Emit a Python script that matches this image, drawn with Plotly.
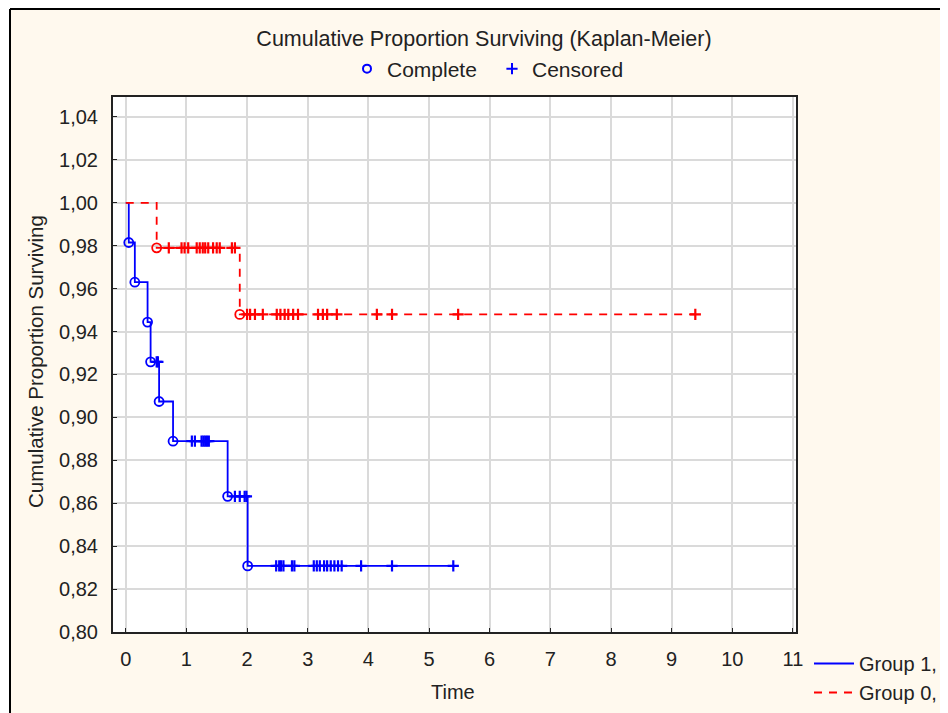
import plotly.graph_objects as go
import numpy as np

# ---------------- data ----------------
g1_event_times = [0.0, 0.05, 0.15, 0.36, 0.41, 0.55, 0.78, 1.68, 2.01]
g1_event_surv = [1.0, 0.9815, 0.9630, 0.9444, 0.9259, 0.9074, 0.8889, 0.8632, 0.8308]
g1_censor_times = [0.51, 0.53, 1.09, 1.14, 1.25, 1.28, 1.31, 1.34, 1.37, 1.80, 1.88, 1.96, 1.99,
                   2.48, 2.53, 2.56, 2.60, 2.74, 2.78, 3.10, 3.15, 3.20, 3.27, 3.32, 3.38, 3.44,
                   3.50, 3.56, 3.88, 4.39, 5.40]
g1_end = 5.40

g0_event_times = [0.0, 0.51, 1.88]
g0_event_surv = [1.0, 0.979, 0.948]
g0_censor_times = [0.71, 0.92, 0.97, 1.03, 1.17, 1.22, 1.27, 1.31, 1.36, 1.44, 1.50, 1.55, 1.75,
                   1.80, 2.00, 2.05, 2.13, 2.26, 2.49, 2.55, 2.62, 2.68, 2.76, 2.84, 3.17, 3.25,
                   3.32, 3.48, 4.14, 4.39, 5.48, 9.39]
g0_end = 9.40

x_ticks = list(range(0, 12))
y_ticks = [0.80, 0.82, 0.84, 0.86, 0.88, 0.90, 0.92, 0.94, 0.96, 0.98, 1.00, 1.02, 1.04]

BLUE = "#0000FF"
RED = "#FF0000"
CREAM = "#FFF9EE"
TXT = "#222222"

def step_at(t, times, surv):
    idx = np.searchsorted(times, t, side="right") - 1
    return surv[idx]

fig = go.Figure()

def add_group(times, surv, censors, end, color, dash, name):
    lx = list(times) + [end]
    ly = list(surv) + [surv[-1]]
    fig.add_trace(go.Scatter(x=lx, y=ly, mode="lines", line=dict(color=color, width=1.8, dash=dash, shape="hv"),
                             name=name, legend="legend", showlegend=True, hoverinfo="skip"))
    fig.add_trace(go.Scatter(x=times[1:], y=surv[1:], mode="markers",
                             marker=dict(symbol="circle-open", size=9, color=color, line=dict(width=1.8, color=color)),
                             showlegend=False, hoverinfo="skip"))
    cy_ = [step_at(t, times, surv) for t in censors]
    fig.add_trace(go.Scatter(x=censors, y=cy_, mode="markers",
                             marker=dict(symbol="cross-thin", size=8, color=color, line=dict(width=2.2, color=color)),
                             showlegend=False, hoverinfo="skip"))

add_group(g1_event_times, g1_event_surv, g1_censor_times, g1_end, BLUE, "solid", "Group 1,")
add_group(g0_event_times, g0_event_surv, g0_censor_times, g0_end, RED, "8px,7px", "Group 0,")

# top legend entries
fig.add_trace(go.Scatter(x=[None], y=[None], mode="markers", name="Complete", legend="legend2",
                         marker=dict(symbol="circle-open", size=8, color=BLUE, line=dict(width=2, color=BLUE))))
fig.add_trace(go.Scatter(x=[None], y=[None], mode="markers", name="Censored", legend="legend2",
                         marker=dict(symbol="cross-thin", size=8, color=BLUE, line=dict(width=2, color=BLUE))))

# page body has an 8px margin -> work in page pixels and shift by 8
OFF = 8
W, H = 948 - OFF, 713 - OFF
L, R, T, B = 113 - OFF, 796 - OFF, 97 - OFF, 632 - OFF
pw, ph = R - L, B - T
def px(x):
    return (x - OFF - L) / pw
def py(y):
    return (B - (y - OFF)) / ph
def cx(x):
    return (x - OFF) / W
def cy(y):
    return 1 - (y - OFF) / H

FONT = "Liberation Sans, Arial, sans-serif"

fig.update_layout(
    width=W, height=H,
    margin=dict(l=L, r=W - R, t=T, b=H - B, pad=0, autoexpand=False),
    paper_bgcolor=CREAM, plot_bgcolor="white",
    separators=",.",
    font=dict(family=FONT, size=20, color=TXT),
    title=dict(text="Cumulative Proportion Surviving (Kaplan-Meier)", x=cx(484), xref="container", xanchor="center",
               y=cy(38), yref="container", yanchor="middle", font=dict(size=21.5, color=TXT)),
    xaxis=dict(range=[-0.21, 11.05], tickvals=x_ticks, ticks="inside", ticklen=4, tickcolor="#222",
               showgrid=True, gridcolor="#DADADA", gridwidth=1.6, zeroline=False,
               showline=True, linecolor="#222", linewidth=2, mirror=True,
               tickfont=dict(size=20), ticklabelstandoff=8),
    yaxis=dict(range=[0.80, 1.0493], tickvals=y_ticks, tickformat=".2f", ticks="inside", ticklen=4,
               tickcolor="#222", showgrid=True, gridcolor="#DADADA", gridwidth=1.6, zeroline=False,
               showline=True, linecolor="#222", linewidth=2, mirror=True,
               tickfont=dict(size=20), ticklabelstandoff=9),
    legend=dict(xref="container", yref="container", x=cx(809), y=cy(644), xanchor="left", yanchor="top",
                bgcolor="rgba(0,0,0,0)", font=dict(size=20), itemwidth=40, tracegroupgap=0),
    legend2=dict(orientation="h", xref="container", yref="container", x=cx(492), xanchor="center",
                 y=cy(69), yanchor="middle", bgcolor="rgba(0,0,0,0)", font=dict(size=21), itemwidth=30,
                 entrywidth=100, entrywidthmode="pixels"),
    showlegend=True,
    annotations=[
        dict(text="Time", xref="paper", yref="paper", x=px(453), y=py(692), xanchor="center", yanchor="middle",
             showarrow=False, font=dict(size=20, color=TXT)),
        dict(text="Cumulative Proportion Surviving", xref="paper", yref="paper", x=px(35), y=py(362),
             xanchor="center", yanchor="middle", textangle=-90, showarrow=False, font=dict(size=20.5, color=TXT)),
    ],
)

# outer frame: white strip left/top, black border lines
fig.add_shape(type="rect", xref="paper", yref="paper", x0=px(-20), x1=px(10), y0=py(800), y1=py(-20),
              fillcolor="white", line=dict(width=0), layer="above")
fig.add_shape(type="line", xref="paper", yref="paper", x0=px(10), x1=px(10), y0=py(800), y1=py(9),
              line=dict(color="black", width=2))
fig.add_shape(type="line", xref="paper", yref="paper", x0=px(10), x1=px(1000), y0=py(9), y1=py(9),
              line=dict(color="black", width=2))

fig.write_html("out.html")
